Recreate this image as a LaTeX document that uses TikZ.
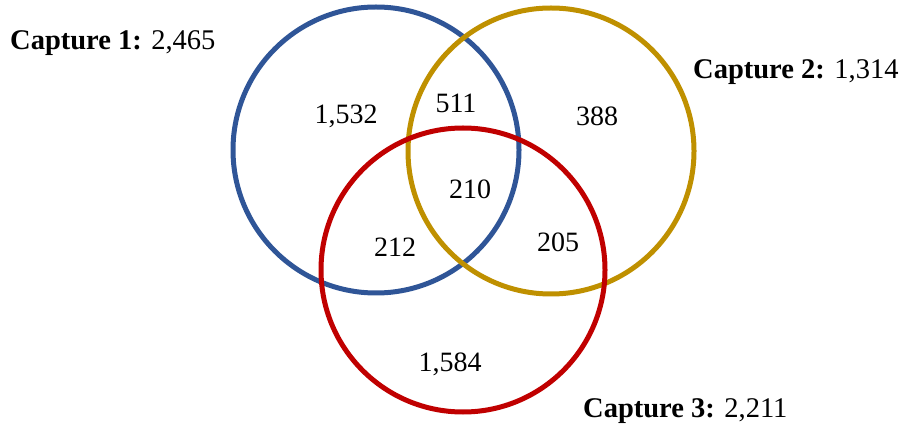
\documentclass[tikz,border=0pt]{standalone}
\usepackage{fontspec}
\setmainfont{Liberation Serif}
\definecolor{capblue}{HTML}{2F5597}
\definecolor{capgold}{HTML}{BF9000}
\definecolor{capred}{HTML}{C00000}
\begin{document}
\begin{tikzpicture}[x=1pt,y=-1pt,
  ring/.style={circle, draw=#1, line width=5pt, inner sep=0pt, minimum size=286pt},
  count/.style={anchor=base, inner sep=0pt, font=\fontsize{28}{33}\selectfont},
  caption/.style={anchor=base west, inner sep=0pt, font=\fontsize{28.5}{33}\selectfont}]
\useasboundingbox (0,0) rectangle (907,427);
% the three capture sets
\node[ring=capblue] (c1) at (376,150) {};
\node[ring=capgold] (c2) at (551,151) {};
\node[ring=capred, minimum size=284pt] (c3) at (463,270) {};
% region counts
\node[count] (only1) at (346,124) {1,532};
\node[count] (n12) at (456,113) {511};
\node[count] (only2) at (597,126) {388};
\node[count] (n123) at (470,199) {210};
\node[count] (n13) at (395,257) {212};
\node[count] (n23) at (558,252) {205};
\node[count] (only3) at (450,371) {1,584};
% set totals
\node[caption] (t1) at (10,50) {\textbf{Capture 1:} 2,465};
\node[caption] (t2) at (693,79) {\textbf{Capture 2:} 1,314};
\node[caption] (t3) at (583,417) {\textbf{Capture 3:} 2,211};
\end{tikzpicture}
\end{document}
